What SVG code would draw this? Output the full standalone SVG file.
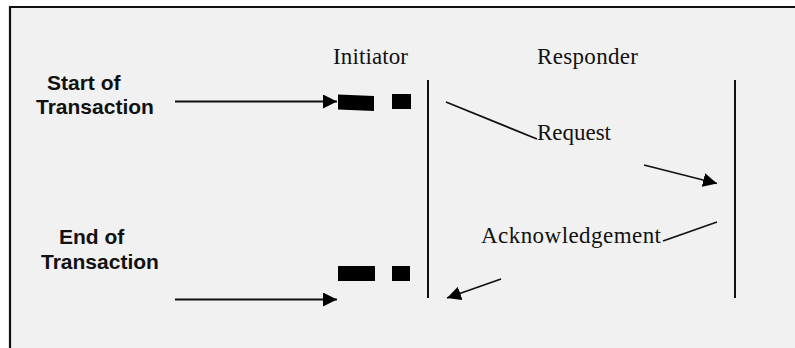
<svg xmlns="http://www.w3.org/2000/svg" width="795" height="348" viewBox="0 0 795 348">
<defs>
<style>
.serif{font-family:"Liberation Serif","Times New Roman",serif;font-size:23px;fill:#111}
.sans{font-family:"Liberation Sans",Arial,sans-serif;font-size:21px;font-weight:bold;fill:#111}
.ln{stroke:#111;stroke-width:1.8;fill:none}
.life{stroke:#111;stroke-width:2;fill:none}
.blk{fill:#000}
</style>
<marker id="ah" viewBox="0 0 14 14" refX="14" refY="7" markerWidth="14" markerHeight="14" markerUnits="userSpaceOnUse" orient="auto">
<path d="M0,0 L14,7 L0,14 Z" fill="#000"/>
</marker>
</defs>
<rect x="0" y="0" width="795" height="348" fill="#ffffff"/>
<rect x="10" y="7" width="790" height="350" fill="#f1f1f1"/>
<path d="M10,348 L10,7 L795,7" stroke="#111" stroke-width="2.2" fill="none"/>

<g id="initiator">
<text class="serif" x="333" y="64" textLength="75">Initiator</text>
<line class="life" x1="428" y1="80" x2="428" y2="298"/>
</g>
<g id="responder">
<text class="serif" x="537" y="64" textLength="101">Responder</text>
<line class="life" x1="735" y1="80" x2="735" y2="298"/>
</g>
<g id="start">
<text class="sans" x="47" y="90">Start of</text>
<text class="sans" x="36" y="114">Transaction</text>
</g>
<g id="end">
<text class="sans" x="59" y="244">End of</text>
<text class="sans" x="41" y="269">Transaction</text>
</g>
<g id="blocks-start">
<polygon class="blk" points="338,94.5 374,96 374,111 338,109.5"/>
<rect class="blk" x="392" y="94" width="19" height="15"/>
</g>
<g id="blocks-end">
<rect class="blk" x="338" y="266" width="37" height="15"/>
<rect class="blk" x="392" y="266" width="18" height="15"/>
</g>
<g id="request-label">
<text class="serif" x="537" y="140" textLength="74">Request</text>
</g>
<g id="ack-label">
<text class="serif" x="481" y="243" textLength="180">Acknowledgement</text>
</g>
<g id="connectors">
<line class="ln" x1="175" y1="101.5" x2="337" y2="101.5" marker-end="url(#ah)"/>
<line class="ln" x1="175" y1="299.5" x2="337" y2="299.5" marker-end="url(#ah)"/>
<line class="ln" x1="446" y1="102" x2="537" y2="139"/>
<line class="ln" x1="644" y1="165" x2="717" y2="183.5" marker-end="url(#ah)"/>
<line class="ln" x1="717" y1="222" x2="663" y2="241"/>
<line class="ln" x1="501" y1="279" x2="447" y2="298" marker-end="url(#ah)"/>
</g>
</svg>
